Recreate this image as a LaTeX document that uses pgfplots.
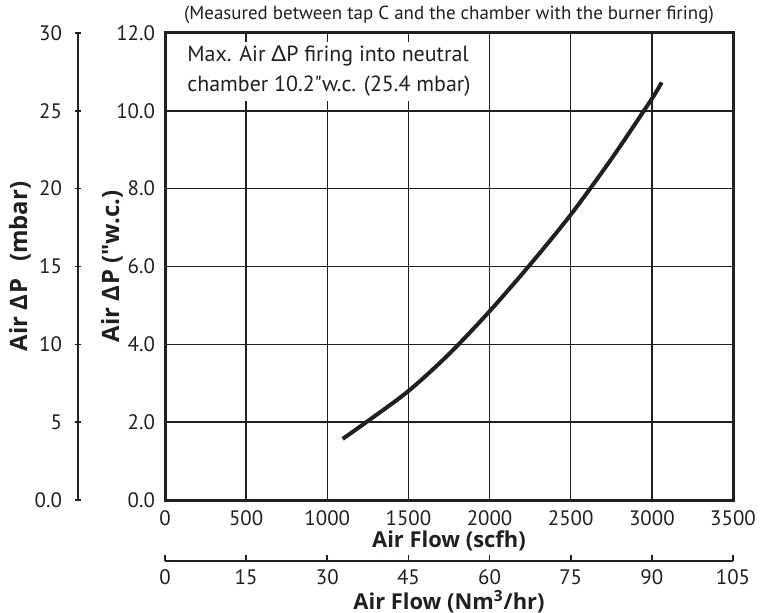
\documentclass[border=0pt]{standalone}
\usepackage{fontspec}
\setmainfont{PT Sans}[Ligatures=TeXOff]
\newfontfamily\lato{Lato}
\newfontfamily\labfont{Open Sans}[Ligatures=TeXOff]
\usepackage{pgfplots}
\pgfplotsset{compat=1.18}
\newcommand{\D}{{\lato Δ}}
\definecolor{ink}{HTML}{231F20}

\begin{document}
\begin{tikzpicture}
\useasboundingbox (-82.5bp,-56.5bp) rectangle (300bp,250bp);

% main chart: air flow (scfh) vs pressure ("w.c.)
\begin{axis}[
  at={(0,0)}, anchor=south west,
  scale only axis, width=284bp, height=233.5bp,
  xmin=0, xmax=3500, ymin=0, ymax=12,
  xtick={0,500,...,3500}, ytick={0,2,...,12},
  xticklabels={0,500,1000,1500,2000,2500,3000,3500},
  yticklabels={0.0,2.0,4.0,6.0,8.0,10.0,12.0},
  grid=major,
  major grid style={ink, line width=0.7bp},
  axis line style={ink, line width=1.5bp},
  major tick length=0pt,
  ticklabel style={font=\fontsize{10.5}{12}\selectfont, text=ink},
  xticklabel style={yshift=-2bp},
  yticklabel style={xshift=-1.5bp},
  title={(Measured between tap C and the chamber with the burner firing)},
  title style={font=\fontsize{9.5}{11}\selectfont, text=ink, at={(axis description cs:0.5,1)}, anchor=south, yshift=-5bp},
  xlabel={Air Flow (scfh)},
  ylabel={Air Δ\kern0.5ptP ("w.c.)},
  every axis x label/.style={at={(axis description cs:0.5,0)}, anchor=center, yshift=-20.5bp, text=ink, font=\labfont\bfseries\fontsize{11}{13}\selectfont},
  every axis y label/.style={at={(axis description cs:-0.0933,0.5)}, anchor=center, rotate=90, text=ink, font=\labfont\bfseries\fontsize{12}{14}\selectfont},
]
\addplot[ink, line width=2bp, smooth] coordinates {
  (1095,1.57) (1250,2.03) (1500,2.80) (1750,3.75) (2000,4.85) (2250,6.05)
  (2500,7.33) (2750,8.76) (3000,10.31) (3060,10.73)
};
\node[anchor=north west, fill=white, align=left, inner sep=2bp, text=ink,
      font=\fontsize{11}{15}\selectfont] at (rel axis cs:0.0317,0.981)
  {Max. Air \D P firing into neutral\\chamber 10.2"w.c. (25.4 mbar)};
\end{axis}

% secondary pressure scale (mbar)
\begin{axis}[
  at={(-43.5bp,0)}, anchor=south west,
  scale only axis, width=1bp, height=233.5bp,
  xmin=0, xmax=1, ymin=0, ymax=30,
  axis x line=none, axis y line=left,
  y axis line style={-, ink, line width=1bp},
  ytick={0,5,...,30}, yticklabels={0.0,5,10,15,20,25,30},
  tick align=center, major tick length=3bp,
  major tick style={ink, line width=0.8bp},
  ticklabel style={font=\fontsize{10.5}{12}\selectfont, text=ink},
  yticklabel style={xshift=-3bp},
  ylabel={Air Δ\kern0.5ptP\hspace{0.7em}(mbar)},
  every axis y label/.style={at={(axis description cs:0,0.5)}, xshift=-29bp, anchor=center, rotate=90, text=ink, font=\labfont\bfseries\fontsize{12}{14}\selectfont},
]
\end{axis}

% secondary flow scale (Nm3/hr)
\begin{axis}[
  at={(0,-30.5bp)}, anchor=south west,
  scale only axis, width=284bp, height=10bp,
  xmin=0, xmax=105, ymin=0, ymax=1,
  axis y line=none, axis x line=bottom,
  x axis line style={-, ink, line width=1.2bp},
  xtick={0,15,...,105}, xticklabels={0,15,30,45,60,75,90,105},
  tick align=inside, major tick length=3bp,
  major tick style={ink, line width=0.8bp},
  ticklabel style={font=\fontsize{10.5}{12}\selectfont, text=ink},
  xticklabel style={yshift=-1bp},
  xlabel={Air Flow (Nm\textsuperscript{3}/hr)},
  every axis x label/.style={at={(axis description cs:0.5,0)}, anchor=center, yshift=-20.5bp, text=ink, font=\labfont\bfseries\fontsize{11}{13}\selectfont},
]
\end{axis}
\end{tikzpicture}
\end{document}
